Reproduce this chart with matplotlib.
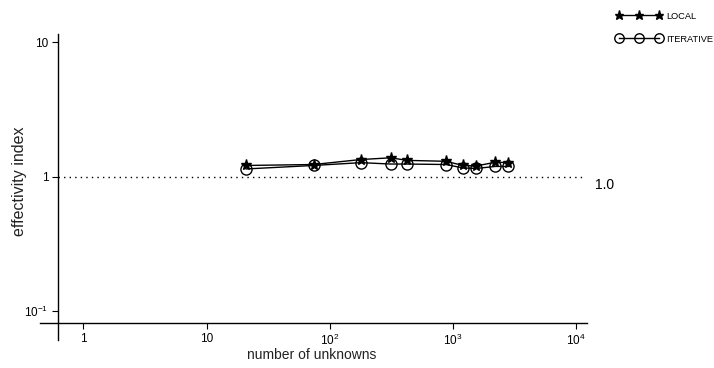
import matplotlib
matplotlib.use('Agg')
import matplotlib.pyplot as plt
import numpy as np

# Datos
n_unknowns = [21, 74, 179, 313, 426, 877, 1206, 1550, 2212, 2820]
ei_local = [1.21, 1.23, 1.34, 1.38, 1.32, 1.30, 1.21, 1.20, 1.28, 1.27]
ei_iterative = [1.14, 1.21, 1.27, 1.24, 1.24, 1.23, 1.16, 1.15, 1.19, 1.19]

xticks = [1, 10, 100, 1000, 10000]
xticklabels = ['1', '10', '10$^2$', '10$^3$', '10$^4$']
yticks = [0.1, 1, 10]
yticklabels = ['10$^{-1}$', '1', '10']

plt.rcParams['font.family'] = ['Liberation Sans', 'DejaVu Sans']
plt.rcParams['mathtext.fontset'] = 'custom'
plt.rcParams['mathtext.rm'] = 'Liberation Sans'

fig = plt.figure(figsize=(7.14, 3.68), dpi=100)
ax = fig.add_axes([40/714, 28/368, 547/714, 306/368])

ax.set_xscale('log')
ax.set_yscale('log')
ax.set_xlim(10**-0.3515, 10**4.088)
ax.set_ylim(10**-1.2185, 10**1.063)

# ejes cruzados al estilo antiguo
ax.spines['left'].set_position(('data', 10**-0.203))
ax.spines['bottom'].set_position(('data', 10**-1.094))
ax.spines['right'].set_visible(False)
ax.spines['top'].set_visible(False)
for s in ['left', 'bottom']:
    ax.spines[s].set_linewidth(1.0)

ax.xaxis.set_minor_locator(matplotlib.ticker.NullLocator())
ax.yaxis.set_minor_locator(matplotlib.ticker.NullLocator())
ax.set_xticks(xticks)
ax.set_xticklabels(xticklabels)
ax.set_yticks(yticks)
ax.set_yticklabels(yticklabels)
ax.tick_params(axis='both', direction='out', length=4, width=0.8, labelsize=8.5, pad=3)

# linea de referencia
ax.axhline(1.0, xmin=0.033, xmax=0.992, color='black', linestyle=(0, (1, 3)), linewidth=1)
ax.annotate('1.0', xy=(1.0, 1.0), xycoords=('axes fraction', 'data'),
            xytext=(6, -6), textcoords='offset points', ha='left', va='center',
            fontsize=10, annotation_clip=False)

l1, = ax.plot(n_unknowns, ei_local, color='black', linewidth=1.0, marker='*',
              markersize=8, label='LOCAL')
l2, = ax.plot(n_unknowns, ei_iterative, color='black', linewidth=1.0, marker='o',
              markersize=8, markerfacecolor='none', markeredgewidth=1.0, label='ITERATIVE')

ax.set_xlabel('number of unknowns', fontsize=10, color='#222222')
ax.set_ylabel('effectivity index', fontsize=11.5, color='#222222')
ax.xaxis.set_label_coords((312-40)/547, -(348-340)/306)
ax.yaxis.set_label_coords((27-40)/547, (340-181)/306)

fig.legend(handles=[l1, l2], loc='upper left', bbox_to_anchor=(612/714, 1-8/368),
           frameon=False, numpoints=3, handlelength=4.9, handletextpad=0.55,
           markerscale=0.85, labelspacing=1.5, fontsize=6.7, borderaxespad=0)

fig.savefig('out.png', dpi=100)
